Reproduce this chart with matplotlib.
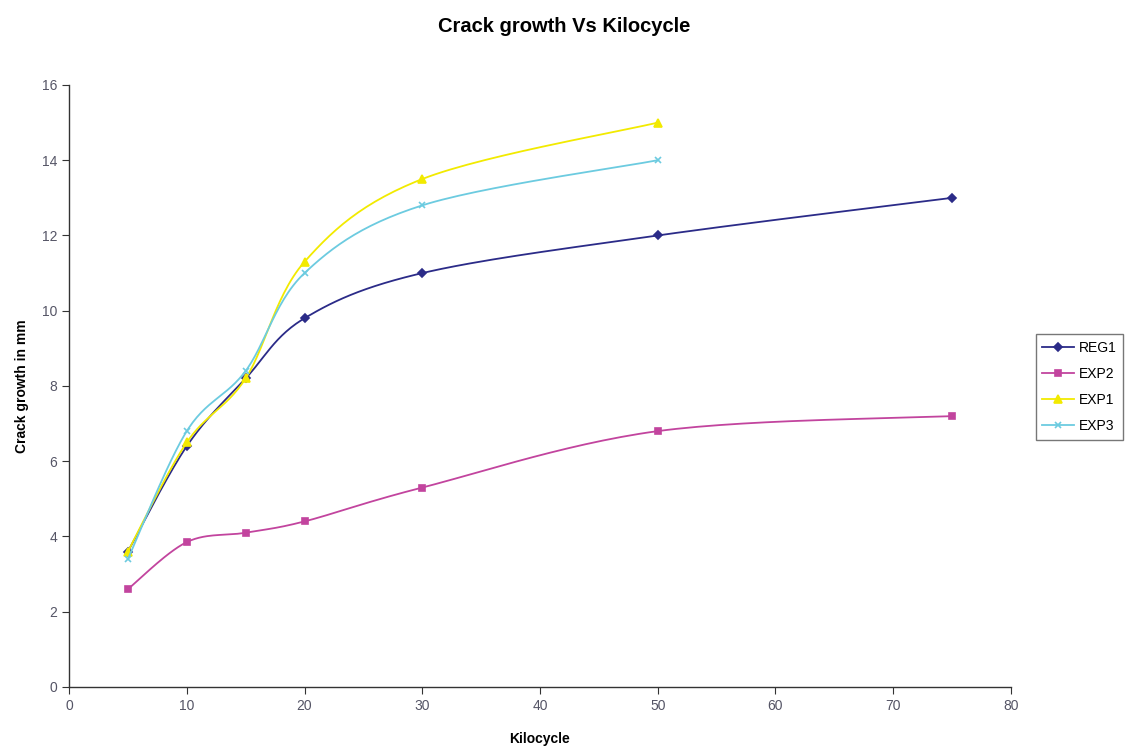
import numpy as np
import matplotlib
matplotlib.use("Agg")
import matplotlib.pyplot as plt

plt.rcParams['font.family'] = ['Liberation Sans', 'DejaVu Sans']

kilocycle = [5, 10, 15, 20, 30, 50, 75]
reg1 = [3.6, 6.4, 8.2, 9.8, 11.0, 12.0, 13.0]
exp2 = [2.6, 3.85, 4.1, 4.4, 5.3, 6.8, 7.2]
exp1 = [3.6, 6.5, 8.2, 11.3, 13.5, 15.0]
exp3 = [3.4, 6.8, 8.4, 11.0, 12.8, 14.0]

series = [
    ("REG1", reg1, "#2B2B88", "D", 4.5),
    ("EXP2", exp2, "#C2449E", "s", 5),
    ("EXP1", exp1, "#F2EA00", "^", 6),
    ("EXP3", exp3, "#6CCBE0", "x", 5),
]


def smooth(xs, ys, n=30):
    # Catmull-Rom style Bezier smoothing (like spreadsheet "smoothed line")
    xs = np.asarray(xs, float)
    ys = np.asarray(ys, float)
    px = np.concatenate([[xs[0]], xs, [xs[-1]]])
    py = np.concatenate([[ys[0]], ys, [ys[-1]]])
    outx, outy = [], []
    t = np.linspace(0, 1, n)
    for i in range(1, len(px) - 2):
        p0 = np.array([px[i], py[i]])
        p3 = np.array([px[i + 1], py[i + 1]])
        c1 = p0 + (np.array([px[i + 1], py[i + 1]]) - np.array([px[i - 1], py[i - 1]])) / 6
        c2 = p3 - (np.array([px[i + 2], py[i + 2]]) - np.array([px[i], py[i]])) / 6
        pts = ((1 - t)[:, None] ** 3 * p0 + 3 * ((1 - t) ** 2 * t)[:, None] * c1
               + 3 * ((1 - t) * t ** 2)[:, None] * c2 + (t ** 3)[:, None] * p3)
        outx.extend(pts[:, 0])
        outy.extend(pts[:, 1])
    return outx, outy


fig = plt.figure(figsize=(11.28, 7.48), dpi=100)
ax = fig.add_axes([0.0612, 0.0816, 0.835, 0.8048])

handles = []
for name, ys, col, mk, ms in series:
    xs = kilocycle[:len(ys)]
    sx, sy = smooth(xs, ys)
    ax.plot(sx, sy, color=col, lw=1.3)
    ax.plot(xs, ys, linestyle='none', marker=mk, color=col, ms=ms, mew=1.2)
    h, = ax.plot([], [], color=col, lw=1.3, marker=mk, ms=ms, mew=1.2, label=name)
    handles.append(h)

ax.set_xlim(0, 80)
ax.set_ylim(0, 16)
ax.set_xticks(range(0, 81, 10))
ax.set_yticks(range(0, 17, 2))
for s in ['top', 'right']:
    ax.spines[s].set_visible(False)
for s in ['left', 'bottom']:
    ax.spines[s].set_color('#333333')
    ax.spines[s].set_linewidth(1.0)
ax.tick_params(axis='both', colors='#333333', labelcolor='#555566', labelsize=10,
               length=5, direction='out')

ax.set_xlabel("Kilocycle", fontsize=10, fontweight='bold', labelpad=14)
ax.set_ylabel("Crack growth in mm", fontsize=10, fontweight='bold', labelpad=9)
fig.suptitle("Crack growth Vs Kilocycle", fontsize=14.5, fontweight='bold', y=0.977)

leg = fig.legend(handles=handles, loc='upper left', bbox_to_anchor=(0.918, 0.553),
                 frameon=True, fancybox=False, fontsize=10, handlelength=2.3,
                 borderpad=0.5, labelspacing=0.85, handletextpad=0.3,
                 borderaxespad=0.0)
leg.get_frame().set_edgecolor('#555555')
leg.get_frame().set_linewidth(1.0)

fig.savefig("out.png", dpi=100)
